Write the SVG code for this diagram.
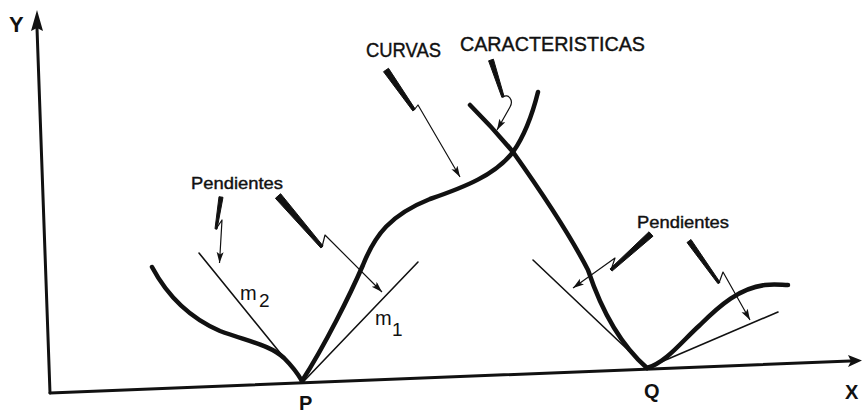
<svg xmlns="http://www.w3.org/2000/svg" width="862" height="415" viewBox="0 0 862 415">
<style>
text{font-family:"Liberation Sans","DejaVu Sans",sans-serif;fill:#111}
.axl{font-weight:bold}
.axis{fill:none;stroke:#111;stroke-width:3;stroke-linecap:round}
.curve{fill:none;stroke:#111;stroke-width:4.5;stroke-linecap:round;stroke-linejoin:round}
.tan{fill:none;stroke:#111;stroke-width:1.6;stroke-linecap:round}
.thin{fill:none;stroke:#111;stroke-width:1.2;stroke-linejoin:round}
.wedge{fill:#111;stroke:#111;stroke-width:1;stroke-linejoin:round}
.lbl{font-size:20px;stroke:#111;stroke-width:0.4}
.pen{font-size:17px;stroke:#111;stroke-width:0.4}
</style>
<defs>
<marker id="ah" markerUnits="userSpaceOnUse" markerWidth="12" markerHeight="8" refX="11" refY="3.5" orient="auto">
<path d="M0,0 L11,3.5 L0,7 L2.5,3.5 Z" fill="#111"/>
</marker>
</defs>
<rect width="862" height="415" fill="#fff"/>

<g id="axes">
<path class="axis" d="M50,393 L37,28"/>
<polygon points="37,10 31,31 37,28 43,31" fill="#111"/>
<path class="axis" d="M50,393 L850,361"/>
<polygon points="862,360.5 848,355 851,361 848,367" fill="#111"/>
<text class="axl" x="9" y="32" font-size="22">Y</text>
<text class="axl" x="845" y="399" font-size="20">X</text>
</g>

<g id="point-P">
<text class="axl" x="299" y="410" font-size="20">P</text>
</g>
<g id="point-Q">
<text class="axl" x="644" y="398" font-size="20">Q</text>
</g>

<g id="curve-left-P">
<path class="curve" d="M152,267 C168,297 190,318 220,331 C250,342 270,345 284,358 C292,366 298,374 302,381"/>
</g>
<g id="tangent-m2">
<path class="tan" d="M199,253 L303,381"/>
<text x="240" y="300" font-size="20">m</text>
<text x="259" y="307" font-size="19">2</text>
</g>

<g id="curve-right-P">
<path class="curve" d="M302,381 C325,345 350,295 363,265 C375,235 390,215 430,199 C465,187 495,175 513,152 C525,135 533,112 538,92"/>
</g>
<g id="tangent-m1">
<path class="tan" d="M418,262 L304,381"/>
<text x="375" y="325" font-size="20">m</text>
<text x="392" y="336" font-size="19">1</text>
</g>

<g id="curve-descending">
<path class="curve" d="M470,105 C490,125 503,140 513,152 C540,190 570,235 588,270 C598,300 615,340 647,368"/>
</g>
<g id="tangent-Q-left">
<path class="tan" d="M533,260 L647,368"/>
</g>
<g id="curve-right-Q">
<path class="curve" d="M647,368 C667,362 683,340 700,325 C720,305 740,288 765,285 C775,284 782,285 788,285"/>
</g>
<g id="tangent-Q-right">
<path class="tan" d="M647,368 L778,312"/>
</g>

<g id="label-curvas">
<text class="lbl" x="366" y="57" textLength="75" lengthAdjust="spacingAndGlyphs">CURVAS</text>
<text class="lbl" x="460" y="51" textLength="185" lengthAdjust="spacingAndGlyphs">CARACTERISTICAS</text>
</g>
<g id="label-pendientes-left">
<text class="pen" x="191" y="189" textLength="92" lengthAdjust="spacingAndGlyphs">Pendientes</text>
</g>
<g id="label-pendientes-right">
<text class="pen" x="637" y="228" textLength="92" lengthAdjust="spacingAndGlyphs">Pendientes</text>
</g>

<g id="connectors">
<polygon class="wedge" points="223,197.3 217,229.2 215,228.8 219,196.7"/>
<path class="thin" d="M216,229 L222,220 L219.5,263" marker-end="url(#ah)"/>
<polygon class="wedge" points="280.6,193.7 323.1,246 320.9,248 275.4,198.3"/>
<path class="thin" d="M322,247 L325,235 L382,292" marker-end="url(#ah)"/>
<polygon class="wedge" points="388.5,68.3 415.2,109.1 412.8,110.9 383.5,71.7"/>
<path class="thin" d="M414,110 L418,105 L460,177" marker-end="url(#ah)"/>
<polygon class="wedge" points="493.4,59.2 504.1,96.6 501.9,97.4 488.6,60.8"/>
<path class="thin" d="M503,97 C508,93 514,100 510,107 L497,130" marker-end="url(#ah)"/>
<polygon class="wedge" points="653,236.2 612,271.1 610,268.9 649,231.8"/>
<path class="thin" d="M611,270 L615,258 L573,288" marker-end="url(#ah)"/>
<polygon class="wedge" points="691,239.5 720,282.3 718,283.7 687,242.5"/>
<path class="thin" d="M719,283 L723,272 L750,320" marker-end="url(#ah)"/>
</g>
</svg>
